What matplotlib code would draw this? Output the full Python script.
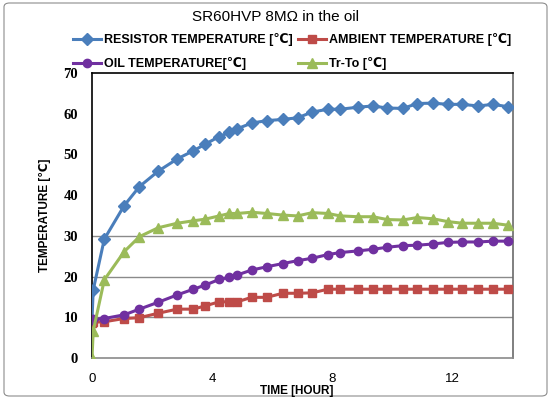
import matplotlib
matplotlib.use("Agg")
import matplotlib.pyplot as plt
from matplotlib.patches import FancyBboxPatch

# ---- data ----
time_hr = [0, 0.04, 0.41, 1.07, 1.58, 2.21, 2.84, 3.38, 3.77, 4.24, 4.58, 4.84, 5.32, 5.82,
           6.36, 6.85, 7.34, 7.86, 8.27, 8.86, 9.36, 9.84, 10.36, 10.84, 11.36, 11.86,
           12.34, 12.87, 13.36, 13.88]
resistor = [9.4, 16.7, 29.2, 37.4, 42.1, 45.9, 48.9, 50.9, 52.5, 54.4, 55.4, 56.3, 57.7, 58.3,
            58.6, 59.0, 60.4, 61.1, 61.1, 61.6, 61.9, 61.4, 61.3, 62.5, 62.6, 62.3,
            62.3, 61.9, 62.3, 61.7]
ambient = [8.7, 8.8, 8.9, 9.7, 9.9, 11.0, 12.0, 12.0, 12.8, 13.8, 13.8, 13.8, 14.9, 14.9,
           15.9, 15.9, 16.0, 16.9, 16.9, 16.9, 16.9, 16.9, 16.9, 16.9, 16.9, 16.9,
           16.9, 16.9, 16.9, 16.9]
oil = [9.3, 9.5, 9.7, 10.6, 12.0, 13.7, 15.5, 16.9, 17.9, 19.3, 19.8, 20.4, 21.6, 22.4,
       23.2, 23.9, 24.5, 25.4, 25.9, 26.3, 26.7, 27.2, 27.6, 27.7, 28.0, 28.4,
       28.5, 28.5, 28.7, 28.7]
tr_to = [0.0, 6.6, 19.2, 26.1, 29.8, 32.0, 33.1, 33.7, 34.1, 34.9, 35.5, 35.5, 35.8, 35.5,
         35.1, 34.9, 35.7, 35.5, 34.9, 34.7, 34.7, 34.0, 33.9, 34.5, 34.2, 33.5,
         33.1, 33.1, 33.1, 32.6]

labels = ["RESISTOR TEMPERATURE [℃]", "AMBIENT TEMPERATURE [℃]",
          "OIL TEMPERATURE[℃]", "Tr-To [℃]"]
title = "SR60HVP 8MΩ in the oil"
xlabel = "TIME [HOUR]"
ylabel = "TEMPERATURE [℃]"
xticks = [0, 4, 8, 12]
yticks = [0, 10, 20, 30, 40, 50, 60, 70]
grid_levels = [10, 20, 30]

SANS = ["Liberation Sans", "DejaVu Sans"]
SERIF = ["Liberation Serif", "DejaVu Serif"]

W, H = 551, 399
fig = plt.figure(figsize=(W / 100, H / 100), dpi=100)

# border
fig.patches.append(FancyBboxPatch((4 / W, 3 / H), 543 / W, 393 / H,
                                  boxstyle="round,pad=0,rounding_size=0.01",
                                  transform=fig.transFigure, fill=False,
                                  edgecolor="#8c8c8c", linewidth=0.8))

ax = fig.add_axes([92 / W, (H - 358) / H, (513 - 92) / W, (358 - 73) / H])

for y in grid_levels:
    ax.axhline(y, color="#8a8a8a", linewidth=1.0, zorder=1)

l1, = ax.plot(time_hr, resistor, color="#4A7EBB", lw=2.2, marker="D", ms=6, zorder=3)
l2, = ax.plot(time_hr, ambient, color="#BE4B48", lw=2.2, marker="s", ms=6, zorder=3)
l3, = ax.plot(time_hr, oil, color="#7030A0", lw=2.2, marker="o", ms=6, zorder=3)
l4, = ax.plot(time_hr, tr_to, color="#9BBB59", lw=2.2, marker="^", ms=7, zorder=3)

ax.set_xlim(0, 14.03)
ax.set_ylim(0, 70)
ax.set_xticks(xticks)
ax.set_yticks(yticks)
ax.set_xticklabels([str(v) for v in xticks], family=SANS, fontsize=9.5)
ax.set_yticklabels([str(v) for v in yticks], family=SERIF, fontsize=10.5, fontweight="bold")
ax.tick_params(axis="both", length=0)
ax.tick_params(axis="x", pad=11)
ax.tick_params(axis="y", pad=10)

ax.spines["top"].set_color("black")
ax.spines["left"].set_color("black")
ax.spines["right"].set_color("#6a6a6a")
ax.spines["bottom"].set_color("#8a8a8a")
for s in ax.spines.values():
    s.set_linewidth(1.2)

fig.text(297 / W, 1 - 391 / H, xlabel, family=SANS, fontweight="bold", fontsize=8.5,
         ha="center", va="center")
fig.text(45 / W, 1 - 215 / H, ylabel, family=SANS, fontweight="bold", fontsize=8.5,
         ha="center", va="center", rotation=90)
fig.text(276 / W, 1 - 17 / H, title, family=SANS, fontsize=11, ha="center", va="center")

leg = fig.legend([l1, l3, l2, l4], [labels[0], labels[2], labels[1], labels[3]],
                 ncol=2, loc="upper left", bbox_to_anchor=(73 / W, 1 - 33 / H),
                 frameon=False, handlelength=2.2, handletextpad=0.25,
                 columnspacing=0.45, labelspacing=0.9, borderpad=0, borderaxespad=0,
                 prop={"family": SANS, "weight": "bold", "size": 9})

fig.savefig("out.png", dpi=100)
